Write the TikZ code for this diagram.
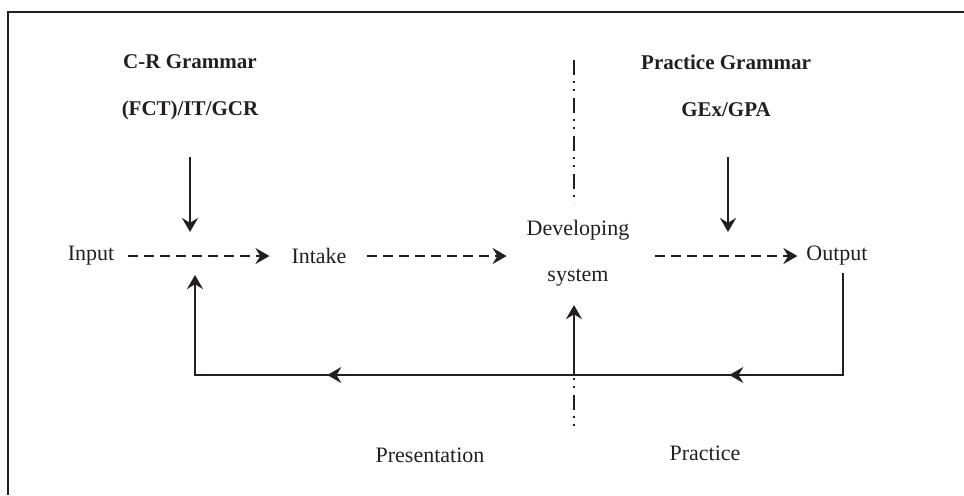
\documentclass[tikz,border=0pt]{standalone}
\usepackage{fontspec}
\setmainfont{Liberation Serif}
\usetikzlibrary{arrows.meta}
\usetikzlibrary{positioning}
\usetikzlibrary{decorations.markings}

\definecolor{ink}{HTML}{231F20}

\begin{document}
\begin{tikzpicture}[
    x=0.5pt, y=-0.5pt,
    node distance=24pt,
    >={Stealth[length=7pt,width=8pt,inset=2.4pt]},
    every node/.style={font=\fontsize{11}{23}\selectfont, text=ink},
    term/.style={align=center},
    head/.style={font=\fontsize{10.5}{12}\selectfont\bfseries},
    flow/.style={->, draw=ink, line width=1.2pt, dash pattern=on 5pt off 3pt},
    feed/.style={->, draw=ink, line width=1.2pt},
    divide/.style={draw=ink, line width=1.2pt, dash pattern=on 7.5pt off 3pt on 1.2pt off 2.8pt on 1.2pt off 3.3pt}
]
\useasboundingbox (0,0) rectangle (964,495);

% Frame
\draw[ink, line width=1.4pt] (964,12) -- (8,12) -- (8,495);

% Nodes
\node[head] (crg) at (190,62) {C-R Grammar};
\node[head, below of=crg] (fct) {(FCT)/IT/GCR};
\node[head] (pg) at (726,62) {Practice Grammar};
\node[head, below of=pg] (gex) {GEx/GPA};

\node (input) at (91,256) {Input};
\node (intake) at (319,256) {Intake};
\node[term] (dev) at (578,253) {Developing\\system};
\node (output) at (837,256) {Output};

\node (pres) at (430,455) {Presentation};
\node (prac) at (705,453) {Practice};

% Points
\coordinate (crgtop) at (190,157);
\coordinate (crgtip) at (190,232);
\coordinate (pgtop) at (728,157);
\coordinate (pgtip) at (728,232);
\coordinate (cdrop) at (843,375);
\coordinate (cturn) at (195,375);
\coordinate (cin) at (195,275);
\coordinate (cjoin) at (574,375);

% Edges
\draw[feed] (crgtop) -- (crgtip);
\draw[feed] (pgtop) -- (pgtip);

\draw[flow, shorten <=3.5pt, shorten >=7.5pt] (input) -- (intake);
\draw[flow, shorten <=6.5pt, shorten >=6.5pt] (intake) -- (intake -| dev.west);
\draw[flow, shorten <=9.5pt, shorten >=1pt] (dev.east |- output) -- (output);

\draw[feed, postaction=decorate, decoration={markings,
    mark=at position 108pt with {\arrow{>}},
    mark=at position 309pt with {\arrow{>}}}]
  (output.south -| cdrop) -- (cdrop) -- (cturn) -- (cin);
\draw[feed, shorten >=6pt] (cjoin) -- (dev.south -| cjoin);

% Divider
\draw[divide] (574,60) -- (574,203);
\draw[divide, dash phase=10.5pt] (574,378) -- (574,426);

\end{tikzpicture}
\end{document}
